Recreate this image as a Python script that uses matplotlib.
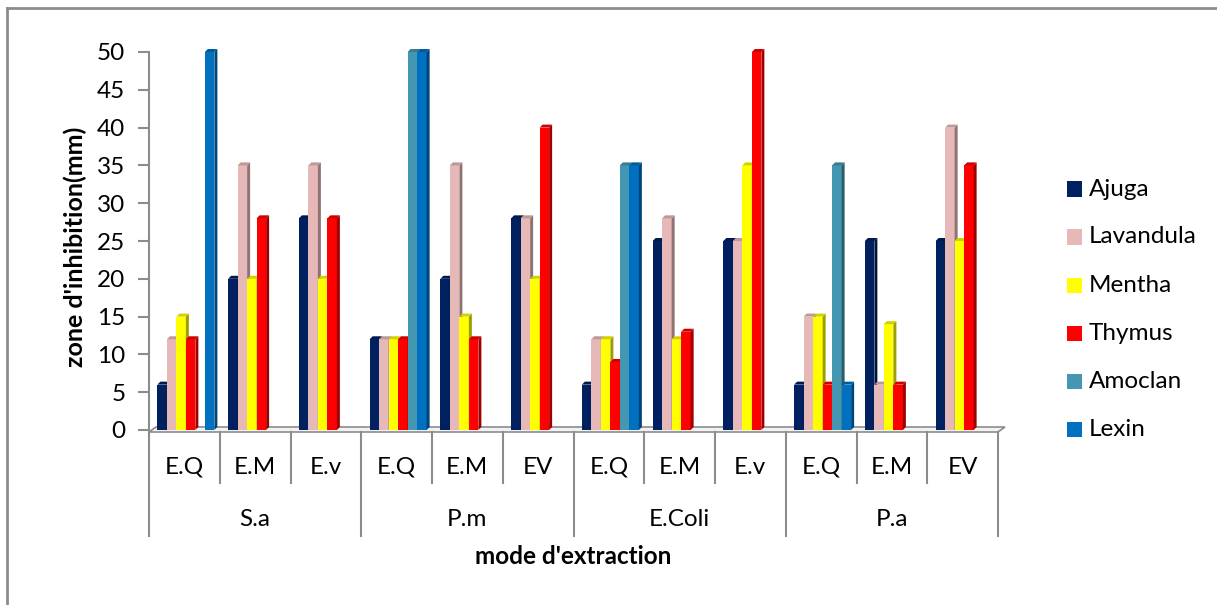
import matplotlib
matplotlib.use("Agg")
import matplotlib.pyplot as plt
from matplotlib.patches import Polygon, Rectangle
from matplotlib.lines import Line2D
import matplotlib.colors as mcolors

plt.rcParams['font.family'] = ['Lato', 'DejaVu Sans']

# ---- data ----
bacteria = ["S.a", "P.m", "E.Coli", "P.a"]
methods = ["E.Q", "E.M", "E.v", "E.Q", "E.M", "EV",
           "E.Q", "E.M", "E.v", "E.Q", "E.M", "EV"]
series_names = ["Ajuga", "Lavandula", "Mentha", "Thymus", "Amoclan", "Lexin"]
ajuga     = [6, 20, 28, 12, 20, 28, 6, 25, 25, 6, 25, 25]
lavandula = [12, 35, 35, 12, 35, 28, 12, 28, 25, 15, 6, 40]
mentha    = [15, 20, 20, 12, 15, 20, 12, 12, 35, 15, 14, 25]
thymus    = [12, 28, 28, 12, 12, 40, 9, 13, 50, 6, 6, 35]
amoclan   = [0, 0, 0, 50, 0, 0, 35, 0, 0, 35, 0, 0]
lexin     = [50, 0, 0, 50, 0, 0, 35, 0, 0, 6, 0, 0]
series = [ajuga, lavandula, mentha, thymus, amoclan, lexin]
colors = ["#002060", "#E6B9B8", "#FFFF00", "#FF0000", "#4397B0", "#0070C0"]
yticks = list(range(0, 51, 5))

W, H = 1217, 605
fig = plt.figure(figsize=(W / 100, H / 100), dpi=100)

# plot area in pixel geometry
x_left, x_right = 149, 998
y_zero, y_top = 430, 52
ax = fig.add_axes([x_left / W, 1 - y_zero / H, (x_right - x_left) / W, (y_zero - y_top) / H])
ncat = len(methods)
ax.set_xlim(-0.5, ncat - 0.5)
ax.set_ylim(0, 50)
ax.patch.set_visible(False)

px_x = (x_right - x_left) / ncat      # pixels per category
px_y = (y_zero - y_top) / 50.0         # pixels per mm

def dx(p):
    return p / px_x

def dy(p):
    return p / px_y

grey = "#8C8C8C"
fs = 17.5

# floor of the 3-D plot
depth = 7
floor = Polygon([(-0.5, dy(-2)), (ncat - 0.5, dy(-2)),
                 (ncat - 0.5 + dx(depth), dy(3)), (-0.5 + dx(depth), dy(3))],
                closed=True, facecolor="#F2F2F2", edgecolor=grey, lw=1.2,
                clip_on=False, zorder=1)
ax.add_patch(floor)

# bars with a side and top face
bw = 9.5 / px_x
shift = dx(1.5)
side = 3.0
nser = len(series)

def shade(c, f):
    r, g, b = mcolors.to_rgb(c)
    return (r * f, g * f, b * f)

z = 3
for i in range(ncat):
    for k in range(nser):
        v = series[k][i]
        if v <= 0:
            continue
        x0 = i + (k - nser / 2) * bw + shift
        x1 = x0 + bw
        c = colors[k]
        ax.bar(x0, v, width=bw, align="edge", color=c, edgecolor="none", zorder=z)
        side_poly = Polygon([(x1, 0), (x1 + dx(side), dy(side)),
                             (x1 + dx(side), v + dy(side)), (x1, v)],
                            closed=True, facecolor=shade(c, 0.62), edgecolor="none",
                            zorder=z, clip_on=False)
        top_poly = Polygon([(x0, v), (x1, v), (x1 + dx(side), v + dy(side)),
                            (x0 + dx(side), v + dy(side))],
                           closed=True, facecolor=shade(c, 0.82), edgecolor="none",
                           zorder=z, clip_on=False)
        ax.add_patch(side_poly)
        ax.add_patch(top_poly)
        z += 0.01

# y axis
ax.spines[["top", "right", "bottom"]].set_visible(False)
ax.spines["left"].set_color(grey)
ax.spines["left"].set_linewidth(1.5)
ax.spines["left"].set_bounds(0, 50)
ax.set_yticks(yticks)
ax.set_yticklabels([str(t) for t in yticks], fontsize=fs)
ax.tick_params(axis="y", length=8, width=1.5, color=grey, pad=9)
ax.set_xticks([])

# category separators and labels
sep_kw = dict(color=grey, lw=1.5, clip_on=False, zorder=2)
for j in range(ncat + 1):
    xb = j - 0.5
    bottom_px = 536 if j % 3 == 0 else 483
    ax.add_line(Line2D([xb, xb], [dy(-2), dy(-(bottom_px - y_zero))], **sep_kw))
for i, m in enumerate(methods):
    ax.text(i, dy(-(467 - y_zero)), m, ha="center", va="center", fontsize=fs, clip_on=False)
for g, b in enumerate(bacteria):
    ax.text(3 * g + 1, dy(-(519 - y_zero)), b, ha="center", va="center", fontsize=fs, clip_on=False)

# axis titles
fig.text(573 / W, 1 - 557 / H, "mode d'extraction", ha="center", va="center",
         fontsize=17.5, fontweight="bold")
fig.text(75 / W, 1 - 247 / H, "zone d'inhibition(mm)", ha="center", va="center",
         rotation=90, fontsize=18, fontweight="bold")

# legend
for k, name in enumerate(series_names):
    yc = 189 + 48 * k
    fig.patches.append(Rectangle((1067 / W, 1 - (yc + 7.5) / H), 15 / W, 15 / H,
                                 transform=fig.transFigure, facecolor=colors[k],
                                 edgecolor="none"))
    fig.text(1089 / W, 1 - yc / H, name, ha="left", va="center", fontsize=fs)

# outer frame (top and left edges)
fig.add_artist(Line2D([7 / W, 1], [1 - 8 / H, 1 - 8 / H], transform=fig.transFigure,
                      color=grey, lw=2))
fig.add_artist(Line2D([7 / W, 7 / W], [0, 1 - 8 / H], transform=fig.transFigure,
                      color=grey, lw=2))

fig.savefig("out.png", dpi=100, facecolor="white")
